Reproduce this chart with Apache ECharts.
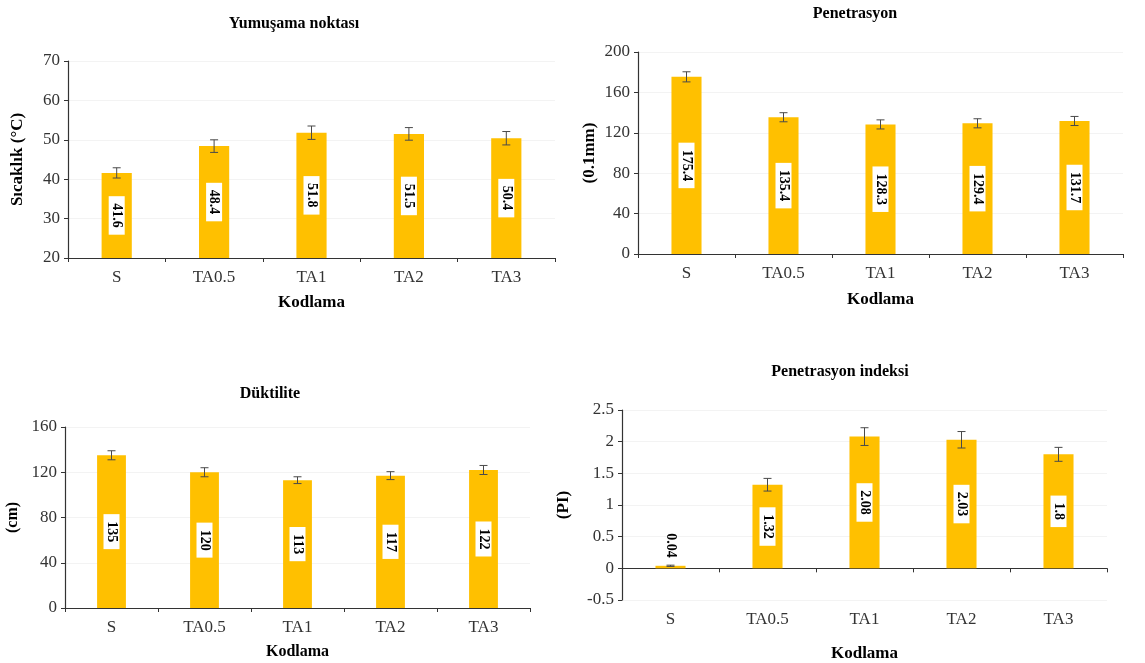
<!DOCTYPE html>
<html>
<head>
<meta charset="utf-8">
<script src="https://cdn.jsdelivr.net/npm/echarts@6/dist/echarts.min.js"></script>
<style>html,body{margin:0;padding:0;background:#fff}#c{width:1145px;height:663px}</style>
</head>
<body>
<div id="c"></div>
<script>
const categories = ['S', 'TA0.5', 'TA1', 'TA2', 'TA3'];

const softTitle = 'Yumuşama noktası';
const softValues = [41.6, 48.4, 51.8, 51.5, 50.4];
const softErrors = [1.3, 1.6, 1.7, 1.6, 1.7];

const penTitle = 'Penetrasyon';
const penValues = [175.4, 135.4, 128.3, 129.4, 131.7];
const penErrors = [5, 4.5, 4.5, 4.5, 4.5];

const ductTitle = 'Düktilite';
const ductValues = [135, 120, 113, 117, 122];
const ductErrors = [4, 4, 3, 3.5, 4];

const piTitle = 'Penetrasyon indeksi';
const piValues = [0.04, 1.32, 2.08, 2.03, 1.8];
const piErrors = [0.01, 0.1, 0.14, 0.13, 0.11];

const xName = 'Kodlama';
const yNames = ['Sıcaklık (°C)', '(0.1mm)', '(cm)', '(PI)'];

const FONT = 'Liberation Serif';
const BAR = '#FFC000';

const panels = [
  {title: softTitle, values: softValues, errors: softErrors, grid: {left: 68, top: 61, width: 487, height: 197}, min: 20, max: 70, interval: 10,
   titleX: 289, titleY: 11, titleSize: 16, tickSize: 17, xNameSize: 17, yNameSize: 17, yGap: 42, xGap: 36},
  {title: penTitle, values: penValues, errors: penErrors, grid: {left: 638, top: 52, width: 485, height: 202}, min: 0, max: 200, interval: 40,
   titleX: 850, titleY: 1, titleSize: 16, tickSize: 17, xNameSize: 17, yNameSize: 17, yGap: 40, xGap: 37},
  {title: ductTitle, values: ductValues, errors: ductErrors, grid: {left: 65, top: 427, width: 465, height: 181}, min: 0, max: 160, interval: 40,
   titleX: 265, titleY: 381, titleSize: 16, tickSize: 17, xNameSize: 16, yNameSize: 16, yGap: 44, xGap: 36},
  {title: piTitle, values: piValues, errors: piErrors, grid: {left: 622, top: 410, width: 485, height: 194}, min: -0.5, max: 2.5, interval: 0.5,
   titleX: 835, titleY: 359, titleSize: 16, tickSize: 17, xNameSize: 17, yNameSize: 17, yGap: 50, xGap: 45}
];

function errorRender(params, api) {
  const x = api.value(0);
  const top = api.coord([x, api.value(1)]);
  const bot = api.coord([x, api.value(2)]);
  const h = 4;
  const st = {stroke: '#4a4a4a', lineWidth: 1};
  return {type: 'group', children: [
    {type: 'line', shape: {x1: top[0], y1: top[1], x2: bot[0], y2: bot[1]}, style: st},
    {type: 'line', shape: {x1: top[0] - h, y1: top[1], x2: top[0] + h, y2: top[1]}, style: st},
    {type: 'line', shape: {x1: bot[0] - h, y1: bot[1], x2: bot[0] + h, y2: bot[1]}, style: st}
  ]};
}

const option = {
  backgroundColor: '#fff',
  animation: false,
  title: panels.map(p => ({
    text: p.title, left: p.titleX, top: p.titleY, textAlign: 'center',
    textStyle: {fontFamily: FONT, fontWeight: 'bold', fontSize: p.titleSize, color: '#000'}
  })),
  grid: panels.map(p => Object.assign({containLabel: false}, p.grid)),
  xAxis: panels.map((p, i) => ({
    type: 'category', gridIndex: i, data: categories,
    name: xName, nameLocation: 'middle', nameGap: p.xGap,
    nameTextStyle: {fontFamily: FONT, fontWeight: 'bold', fontSize: p.xNameSize, color: '#000'},
    axisLine: {onZero: true, lineStyle: {color: '#333', width: 1.2}},
    axisTick: {show: true, length: 4, lineStyle: {color: '#333'}},
    axisLabel: {fontFamily: FONT, fontSize: p.tickSize, color: '#333', margin: 11}
  })),
  yAxis: panels.map((p, i) => ({
    type: 'value', gridIndex: i, min: p.min, max: p.max, interval: p.interval,
    name: yNames[i], nameLocation: 'middle', nameGap: p.yGap,
    nameTextStyle: {fontFamily: FONT, fontWeight: 'bold', fontSize: p.yNameSize, color: '#000'},
    axisLine: {show: true, lineStyle: {color: '#333', width: 1.2}},
    axisTick: {show: true, length: 4, lineStyle: {color: '#333'}},
    axisLabel: {fontFamily: FONT, fontSize: p.tickSize, color: '#333', margin: 8},
    splitLine: {show: true, lineStyle: {color: '#f3f3f3', width: 1}}
  })),
  series: []
};

panels.forEach((p, i) => {
  option.series.push({
    type: 'bar', xAxisIndex: i, yAxisIndex: i, barWidth: '31%',
    itemStyle: {color: BAR},
    data: p.values.map((v, j) => {
      const item = {value: v};
      if (i === 3 && j === 0) {
        item.label = {position: 'top', align: 'right', verticalAlign: 'middle', distance: 6, padding: [0, 2], backgroundColor: 'transparent'};
      }
      return item;
    }),
    label: {
      show: true, position: 'inside', rotate: -90,
      fontFamily: FONT, fontWeight: 'bold', fontSize: 14, color: '#000',
      backgroundColor: '#fff', padding: [1, 7]
    },
    z: 2
  });
  option.series.push({
    type: 'custom', xAxisIndex: i, yAxisIndex: i,
    renderItem: errorRender,
    encode: {x: 0, y: [1, 2]},
    data: p.values.map((v, j) => [j, v + p.errors[j], v - p.errors[j]]),
    z: 3, silent: true
  });
});

const chart = echarts.init(document.getElementById('c'));
chart.setOption(option);
</script>
</body>
</html>
